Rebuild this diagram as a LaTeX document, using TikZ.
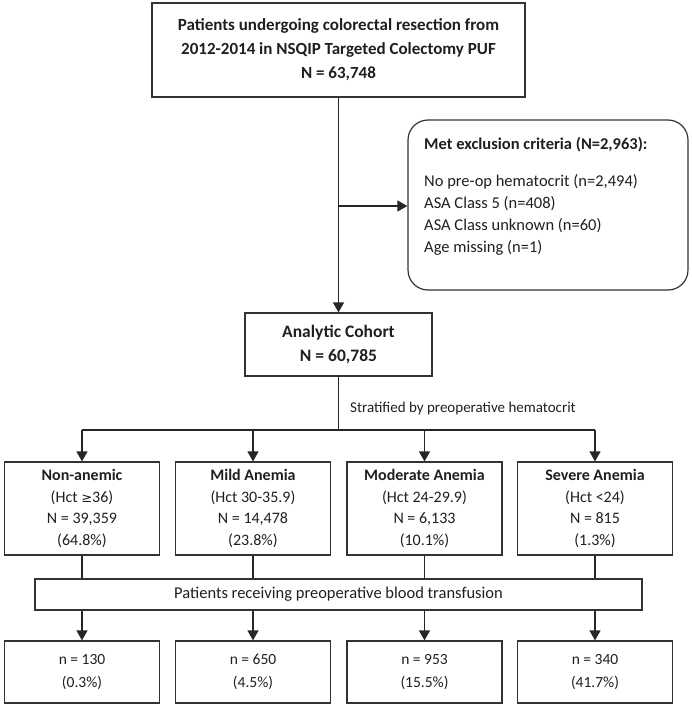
\documentclass[tikz,border=0pt]{standalone}
\usepackage{fontspec}
\setmainfont{Carlito}
\newfontfamily\symfont{DejaVu Sans}
\usetikzlibrary{arrows.meta}
\begin{document}
\begin{tikzpicture}[x=1pt,y=-1pt,
  every node/.style={text=black!88, font=\fontsize{16}{21.5}\selectfont},
  box/.style={draw=black!80, line width=1.2pt, rectangle, inner sep=0pt, align=center},
  grpbox/.style={box, minimum width=155pt, minimum height=93pt},
  resbox/.style={box, minimum width=155pt, minimum height=62pt, font=\fontsize{15.5}{23}\selectfont},
  line/.style={draw=black!85, line width=1.2pt},
  arr/.style={line, -{Triangle[width=11pt,length=10pt]}}
]
\useasboundingbox (0,0) rectangle (692,706);

\node[box, minimum width=373pt, minimum height=94pt, font=\fontsize{17}{24}\selectfont\bfseries] (top) at (338.5,50)
  {Patients undergoing colorectal resection from\\2012-2014 in NSQIP Targeted Colectomy PUF\\N = 63,748};

\node[box, rounded corners=20pt, minimum width=280pt, minimum height=170pt] (ex) at (548,205) {};
\node[anchor=west, align=left, inner sep=0pt, font=\fontsize{16.5}{22}\selectfont] (exText) at (424,196)
  {\textbf{Met exclusion criteria (N=2,963):}\\[15pt]
   No pre-op hematocrit (n=2,494)\\
   ASA Class 5 (n=408)\\
   ASA Class unknown (n=60)\\
   Age missing (n=1)};

\node[box, minimum width=187pt, minimum height=63pt, font=\fontsize{17.5}{24}\selectfont\bfseries] (coh) at (338.5,344.5)
  {Analytic Cohort\\N = 60,785};

\coordinate (split) at (338.5,430);
\coordinate (exj) at (338.5,206);
\node[anchor=west, inner sep=0pt, font=\fontsize{15}{18}\selectfont] (strat) at (350,408) {Stratified by preoperative hematocrit};

\node[grpbox] (g1) at (82,508.5) {\textbf{Non-anemic}\\(Hct {\symfont\fontsize{13}{21.5}\selectfont ≥}36)\\N = 39,359\\(64.8\%)};
\node[grpbox] (g2) at (253,508.5) {\textbf{Mild Anemia}\\(Hct 30-35.9)\\N = 14,478\\(23.8\%)};
\node[grpbox] (g3) at (424.5,508.5) {\textbf{Moderate Anemia}\\(Hct 24-29.9)\\N = 6,133\\(10.1\%)};
\node[grpbox] (g4) at (595,508.5) {\textbf{Severe Anemia}\\(Hct <24)\\N = 815\\(1.3\%)};

\node[box, minimum width=607pt, minimum height=31pt, font=\fontsize{16.5}{20}\selectfont] (tr) at (338.5,594.5) {Patients receiving preoperative blood transfusion};

\node[resbox] (r1) at (82,672) {n = 130\\(0.3\%)};
\node[resbox] (r2) at (253,672) {n = 650\\(4.5\%)};
\node[resbox] (r3) at (424.5,672) {n = 953\\(15.5\%)};
\node[resbox] (r4) at (595,672) {n = 340\\(41.7\%)};

% connectors
\draw[arr] (top.south) -- (coh.north);
\draw[arr] (exj) -- (ex.west |- exj);
\draw[line] (coh.south) -- (split);
\draw[line] (g1.north |- split) -- (g4.north |- split);
\foreach \g in {g1,g2,g3,g4} \draw[arr] (\g.north |- split) -- (\g.north);
\foreach \g in {g1,g2,g3,g4} \draw[line] (\g.south) -- (\g.south |- tr.north);
\foreach \r in {r1,r2,r3,r4} \draw[arr] (\r.north |- tr.south) -- (\r.north);
\end{tikzpicture}
\end{document}
